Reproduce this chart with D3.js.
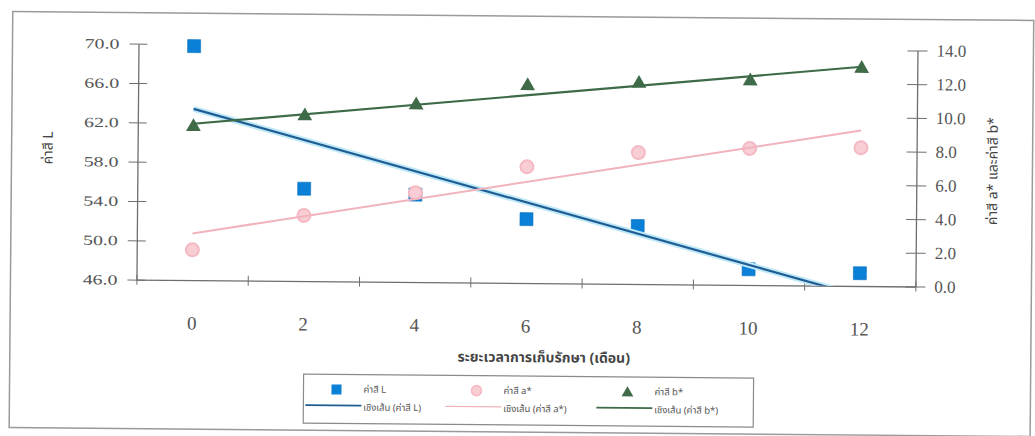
<!DOCTYPE html>
<html>
<head>
<meta charset="utf-8">
<script src="https://cdn.jsdelivr.net/npm/d3@7"></script>
<style>
  body { margin: 0; background: #fff; }
  svg { display: block; }
</style>
</head>
<body>
<svg id="chart" width="1035" height="436"></svg>
<script>
// Storage time (months) and colour values measured at each point
const categories = ["0", "2", "4", "6", "8", "10", "12"];
const valuesL = [69.8, 55.4, 54.9, 52.5, 51.9, 47.6, 47.3];
const valuesA = [1.8, 3.9, 5.3, 6.9, 7.8, 8.1, 8.2];
const valuesB = [9.1, 9.8, 10.5, 11.7, 11.9, 12.1, 12.9];
const leftTicks = [46, 50, 54, 58, 62, 66, 70];
const rightTicks = [0, 2, 4, 6, 8, 10, 12, 14];

const labelL = "ค่าสี L";
const labelA = "ค่าสี a*";
const labelB = "ค่าสี b*";
const trendPrefix = "เชิงเส้น";
const xTitle = "ระยะเวลาการเก็บรักษา (เดือน)";
const yLeftTitle = "ค่าสี L";
const yRightTitle = "ค่าสี a* และค่าสี b*";

const SERIF = "'Liberation Serif','DejaVu Serif',serif";
const THAI = "'Noto Sans Thai','Noto Serif Thai','Loma','Garuda','Norasi','Tlwg Typo','Sarabun','DejaVu Sans',sans-serif";

const colL = "#0a80d6", colLTrend = "#1f5c93";
const colA = "#f5b9c3", colATrend = "#f1b3bd";
const colB = "#3f6b49", colBTrend = "#3d6a47";
const axisCol = "#6e6e6e";

const svg = d3.select("#chart");

// the whole chart sits at a slight tilt
const root = svg.append("g").attr("transform", "rotate(0.5 517 218)");

// chart area border
root.append("rect")
  .attr("x", 11).attr("y", 16).attr("width", 1021).attr("height", 416)
  .attr("fill", "#fff").attr("stroke", "#9a9a9a").attr("stroke-width", 1.5);

const plot = { left: 137, right: 916, top: 47, bottom: 283 };

const x = d3.scaleBand().domain(categories).range([plot.left, plot.right]);
const cx = c => x(c) + x.bandwidth() / 2;
const xIdx = i => plot.left + x.step() * (i + 0.5);
const yL = d3.scaleLinear().domain([46, 70]).range([plot.bottom, plot.top]);
const yR = d3.scaleLinear().domain([0, 14]).range([plot.bottom, plot.top]);

// x axis line with ticks between categories
const xEdge = d3.scaleLinear().domain([0, categories.length]).range([plot.left, plot.right]);
root.append("g")
  .attr("transform", `translate(0,${plot.bottom})`)
  .call(d3.axisBottom(xEdge).tickValues(d3.range(categories.length + 1)).tickFormat("").tickSizeOuter(0))
  .call(g => g.select(".domain").attr("stroke", axisCol).attr("stroke-width", 1.3))
  .call(g => g.selectAll(".tick line").attr("y1", -5).attr("y2", 5).attr("stroke", axisCol));

// x category labels, set well below the axis
root.append("g")
  .attr("transform", `translate(0,${plot.bottom})`)
  .call(d3.axisBottom(x).tickSize(0).tickPadding(36))
  .call(g => g.select(".domain").remove())
  .selectAll("text")
  .attr("font-family", SERIF).attr("font-size", 19).attr("fill", "#555");

// left axis (L)
root.append("g")
  .attr("transform", `translate(${plot.left},0)`)
  .call(d3.axisLeft(yL).tickValues(leftTicks).tickFormat(d3.format(".1f")).tickSizeOuter(0).tickSizeInner(9))
  .call(g => g.select(".domain").attr("stroke", axisCol).attr("stroke-width", 1.3))
  .call(g => g.selectAll(".tick line").attr("x1", 9).attr("stroke", axisCol))
  .call(g => g.selectAll(".tick text")
    .attr("x", 0)
    .attr("text-anchor", "end")
    .attr("transform", "translate(-19,0) scale(1.42,1)")
    .attr("font-family", SERIF).attr("font-size", 14).attr("fill", "#555"));

// right axis (a*, b*)
root.append("g")
  .attr("transform", `translate(${plot.right},0)`)
  .call(d3.axisRight(yR).tickValues(rightTicks).tickFormat(d3.format(".1f")).tickSizeOuter(0).tickSizeInner(10).tickPadding(9))
  .call(g => g.select(".domain").attr("stroke", axisCol).attr("stroke-width", 1.3))
  .call(g => g.selectAll(".tick line").attr("x1", -10).attr("stroke", axisCol))
  .call(g => g.selectAll(".tick text")
    .attr("font-family", SERIF).attr("font-size", 17).attr("fill", "#555"));

// axis titles
root.append("text")
  .attr("transform", "translate(52,152) rotate(-90)")
  .attr("text-anchor", "middle")
  .attr("font-family", THAI).attr("font-size", 14).attr("fill", "#444")
  .text(yLeftTitle);

root.append("text")
  .attr("transform", "translate(997,167) rotate(-90)")
  .attr("text-anchor", "middle")
  .attr("font-family", THAI).attr("font-size", 14).attr("fill", "#444")
  .text(yRightTitle);

root.append("text")
  .attr("x", 545).attr("y", 362)
  .attr("text-anchor", "middle")
  .attr("font-family", THAI).attr("font-size", 14).attr("font-weight", "bold").attr("fill", "#444")
  .text(xTitle);

// markers
const squareSize = 13;
root.append("g").selectAll("rect")
  .data(valuesL)
  .join("rect")
  .attr("x", (d, i) => cx(categories[i]) - squareSize / 2)
  .attr("y", d => yL(d) - squareSize / 2)
  .attr("width", squareSize).attr("height", squareSize)
  .attr("fill", colL).attr("stroke", "#0b6fbc").attr("stroke-width", 0.6);

root.append("g").selectAll("circle")
  .data(valuesA)
  .join("circle")
  .attr("cx", (d, i) => cx(categories[i]))
  .attr("cy", d => yR(d))
  .attr("r", 6.5)
  .attr("fill", "#f8cdd4").attr("stroke", colA).attr("stroke-width", 2);

const triangle = d3.symbol().type(d3.symbolTriangle).size(95);
root.append("g").selectAll("path")
  .data(valuesB)
  .join("path")
  .attr("transform", (d, i) => `translate(${cx(categories[i])},${yR(d)})`)
  .attr("d", triangle)
  .attr("fill", colB);

// linear trend lines (least squares over category positions)
function linearFit(vals) {
  const n = vals.length;
  const xs = d3.range(n);
  const mx = d3.mean(xs), my = d3.mean(vals);
  const slope = d3.sum(xs, i => (i - mx) * (vals[i] - my)) / d3.sum(xs, i => (i - mx) ** 2);
  return i => my + slope * (i - mx);
}

svg.append("defs").append("clipPath").attr("id", "plotClip")
  .append("rect")
  .attr("x", plot.left).attr("y", plot.top - 20)
  .attr("width", plot.right - plot.left).attr("height", plot.bottom - plot.top + 20);

const trendG = root.append("g").attr("clip-path", "url(#plotClip)");
const ends = [0, categories.length - 1];

const fitL = linearFit(valuesL);
const lineL = d3.line().x(i => xIdx(i)).y(i => yL(fitL(i)));
trendG.append("path").attr("d", lineL(ends)).attr("fill", "none")
  .attr("stroke", "#bfe9f7").attr("stroke-width", 6);
trendG.append("path").attr("d", lineL(ends)).attr("fill", "none")
  .attr("stroke", colLTrend).attr("stroke-width", 2.2);

const fitA = linearFit(valuesA);
const lineA = d3.line().x(i => xIdx(i)).y(i => yR(fitA(i)));
trendG.append("path").attr("d", lineA(ends)).attr("fill", "none")
  .attr("stroke", colATrend).attr("stroke-width", 2);

const fitB = linearFit(valuesB);
const lineB = d3.line().x(i => xIdx(i)).y(i => yR(fitB(i)));
trendG.append("path").attr("d", lineB(ends)).attr("fill", "none")
  .attr("stroke", colBTrend).attr("stroke-width", 2.2);

// legend
const lg = root.append("g");
lg.append("rect")
  .attr("x", 305).attr("y", 376).attr("width", 450).attr("height", 49)
  .attr("fill", "#fff").attr("stroke", "#8a8a8a").attr("stroke-width", 1.2);

const legendItems = [
  { name: labelL, color: colL, trend: colLTrend, kind: "square", x0: 307 },
  { name: labelA, color: colA, trend: colATrend, kind: "circle", x0: 447 },
  { name: labelB, color: colB, trend: colBTrend, kind: "triangle", x0: 598 }
];
legendItems.forEach(it => {
  const mx = it.x0 + 31;
  if (it.kind === "square") {
    lg.append("rect").attr("x", mx - 5).attr("y", 386).attr("width", 10).attr("height", 10).attr("fill", it.color);
  } else if (it.kind === "circle") {
    lg.append("circle").attr("cx", mx).attr("cy", 391).attr("r", 5).attr("fill", "#f8cdd4").attr("stroke", it.color).attr("stroke-width", 1.6);
  } else {
    lg.append("path").attr("transform", `translate(${mx},392)`).attr("d", d3.symbol().type(d3.symbolTriangle).size(60)).attr("fill", it.color);
  }
  lg.append("line").attr("x1", it.x0).attr("x2", it.x0 + 56).attr("y1", 407).attr("y2", 407)
    .attr("stroke", it.trend).attr("stroke-width", it.kind === "circle" ? 1.2 : 1.8);
  lg.append("text").attr("x", it.x0 + 58).attr("y", 394)
    .attr("font-family", THAI).attr("font-size", 9.5).attr("fill", "#555").text(it.name);
  lg.append("text").attr("x", it.x0 + 58).attr("y", 412)
    .attr("font-family", THAI).attr("font-size", 9.5).attr("fill", "#555").text(`${trendPrefix} (${it.name})`);
});
</script>
</body>
</html>
